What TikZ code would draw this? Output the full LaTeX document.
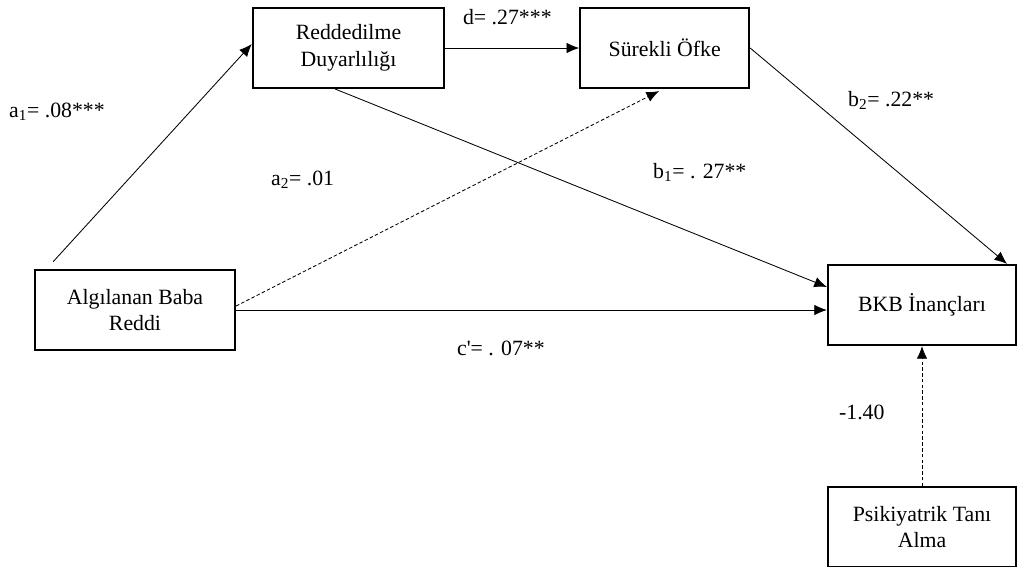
\documentclass[tikz,border=0pt]{standalone}
\usepackage{fontspec}
\setmainfont{Liberation Serif}
\usetikzlibrary{positioning,arrows.meta}
\tikzset{
	every node/.style = {font=\fontsize{15.5}{19}\selectfont, inner sep = 2},
	>={Latex[length=9pt,width=7.5pt]},
	every text node part/.style={align=center},
	var/.style={draw, line width=1.5pt, minimum height=2cm},
	coef/.style={anchor=west},
	link/.style={->, line width=0.6pt},
	weak/.style={dash pattern=on 2.5pt off 1.6pt}
}

\begin{document}
\begin{tikzpicture}[x=0.025cm, y=-0.025cm]
		\useasboundingbox (0,0) rectangle (1018,566);
		\node(reddedilme)[var, minimum width=4.78cm] at (348.5,48) {Reddedilme\\Duyarlılığı};
		\node(surekli)[var, minimum width=4.22cm, right=3.35cm of reddedilme] {Sürekli Öfke};
		\node(algilanan)[var, minimum width=5cm] at (135,310) {Algılanan Baba\\Reddi};
		\node(bkb)[var, minimum width=4.7cm] at (922,305) {BKB İnançları};
		\node(psikiyatrik)[var, minimum width=4.7cm, below=3.5cm of bkb] {Psikiyatrik Tanı\\Alma};

		\node(a1)[coef] at (6,112) {a\textsubscript{1}= .08***};
		\node(a2)[coef] at (268,180) {a\textsubscript{2}= .01};
		\node(d)[coef] at (460,17) {d= .27***};
		\node(b1)[coef] at (650,172) {b\textsubscript{1}= . 27**};
		\node(b2)[coef] at (845,100) {b\textsubscript{2}= .22**};
		\node(c)[coef] at (454,348) {c\textquotesingle= . 07**};
		\node(tani)[coef] at (836,412) {-1.40};

		\draw[link] ([xshift=0.48cm,yshift=0.18cm]algilanan.north west) -- ([yshift=0.1cm]reddedilme.west);
		\draw[link] (reddedilme) -- (surekli);
		\draw[link, weak] ([yshift=0.1cm]algilanan.east) -- ([xshift=-0.14cm,yshift=-0.05cm]surekli.south);
		\draw[link] ([xshift=-0.33cm]reddedilme.south) -- ([yshift=0.45cm]bkb.west);
		\draw[link] (algilanan.east) -- (algilanan.east -| bkb.west);
		\draw[link] (surekli.east) -- ([xshift=-0.25cm]bkb.north east);
		\draw[link, weak] (psikiyatrik) -- (bkb);
\end{tikzpicture}
\end{document}
